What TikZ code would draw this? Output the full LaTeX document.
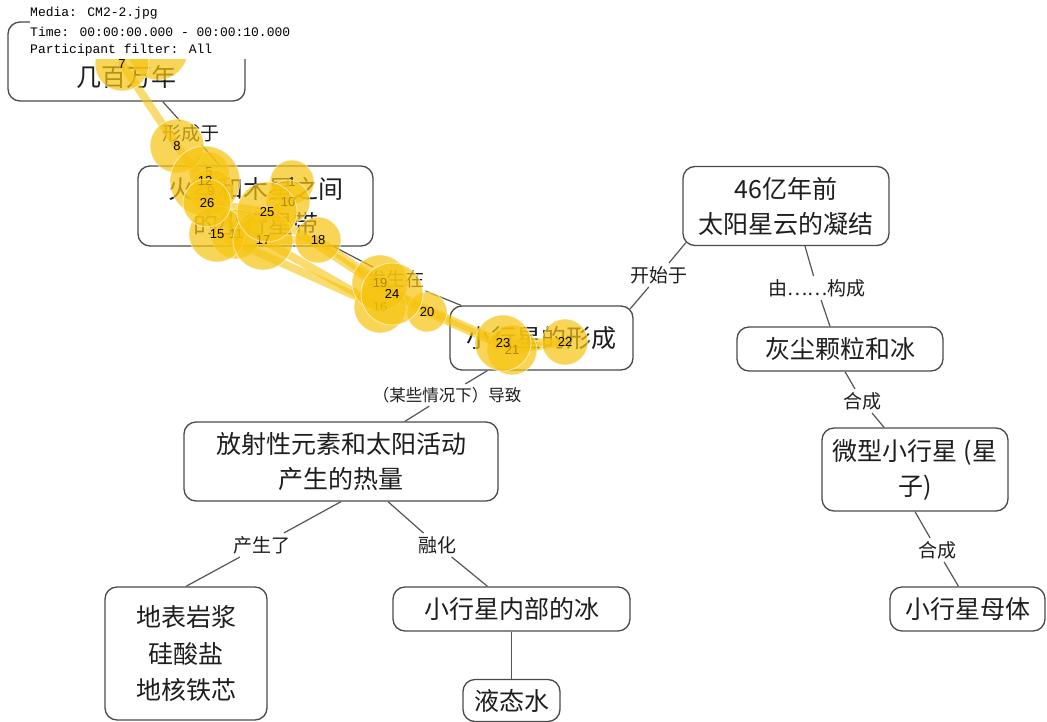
\documentclass[tikz,border=0pt]{standalone}
\usepackage{fontspec}
\setmainfont{Noto Sans CJK SC}
\newfontfamily\monofont{Liberation Mono}
\newfontfamily\numfont{Liberation Sans}
\usetikzlibrary{calc}
\definecolor{edgec}{HTML}{555555}
\definecolor{boxline}{HTML}{4A4A4A}
\definecolor{fixc}{HTML}{F6C40F}
\definecolor{txt}{HTML}{1E1E1E}
\tikzset{
  box/.style={draw=boxline, line width=1.3pt, rounded corners=12pt, align=center,
    font=\fontsize{25}{35}\selectfont, text=txt, inner sep=2pt},
  lbl/.style={font=\fontsize{19}{21}\selectfont, text=txt, inner sep=3pt},
  conn/.style={draw=edgec, line width=1.2pt},
  fixn/.style={circle, fill=fixc, fill opacity=0.7, draw=white, draw opacity=0.6,
    line width=0.8pt, text opacity=1, text=black, inner sep=0pt, minimum size=#1,
    font=\numfont\fontsize{13}{13}\selectfont},
  sacc/.style={draw=fixc, line width=8pt, draw opacity=0.6, line cap=round},
  hdr/.style={anchor=west, inner sep=0pt, font=\monofont\fontsize{13}{13}\selectfont, text=black}
}
\begin{document}
\begin{tikzpicture}[x=1pt,y=-1pt]
\useasboundingbox (0,0) rectangle (1047,722);
\fill[white] (0,0) rectangle (1047,722);

% concept boxes
\node[box, minimum width=237pt, text height=58pt, text depth=8pt, inner ysep=6.5pt] (n1) at (126.5,61.5) {几百万年};
\node[box, minimum width=235pt, minimum height=80pt] (n2) at (255.5,206) {火星和木星之间\\的小行星带};
\node[box, minimum width=183pt, minimum height=64pt] (n3) at (541.5,338) {小行星的形成};
\node[box, minimum width=206pt, minimum height=79pt] (n4) at (786,206) {46亿年前\\太阳星云的凝结};
\node[box, minimum width=206pt, minimum height=44pt] (n5) at (840,349) {灰尘颗粒和冰};
\node[box, minimum width=186pt, minimum height=83pt] (n6) at (915,469.5) {微型小行星 (星\\子)};
\node[box, minimum width=155pt, minimum height=44pt] (n7) at (967.5,609) {小行星母体};
\node[box, minimum width=314pt, minimum height=79pt] (n8) at (341,461.5) {放射性元素和太阳活动\\产生的热量};
\node[box, minimum width=162pt, minimum height=133pt, font=\fontsize{25}{36.5}\selectfont] (n9) at (186,653.5) {地表岩浆\\硅酸盐\\地核铁芯};
\node[box, minimum width=237pt, minimum height=44pt] (n10) at (511.5,609) {小行星内部的冰};
\node[box, minimum width=97pt, minimum height=42pt] (n11) at (511.5,700.5) {液态水};

% link labels
\node[lbl] (l1) at (191,133) {形成于};
\node[lbl] (l2) at (396,279) {发生在};
\node[lbl] (l3) at (659,275) {开始于};
\node[lbl] (l4) at (817,288) {由……构成};
\node[lbl] (l5) at (862,401) {合成};
\node[lbl] (l6) at (937,550) {合成};
\node[lbl, font=\fontsize{16.5}{18}\selectfont] (l7) at (447,395) {（某些情况下）导致};
\node[lbl] (l8) at (262,545) {产生了};
\node[lbl] (l9) at (437,545) {融化};

% connectors
\draw[conn] (n1) -- (l1);
\draw[conn] (l1) -- (n2);
\draw[conn] (n2) -- (l2);
\draw[conn] (l2) -- (n3);
\draw[conn] ($(n3.north east)+(-3.5,3.5)$) -- (l3);
\draw[conn] (l3) -- ($(n4.south west)+(3.5,-3.5)$);
\draw[conn] ($(n4.south)+(19,0)$) -- (l4);
\draw[conn] (l4) -- ($(n5.north)+(-10,0)$);
\draw[conn] ($(n5.south)+(5,0)$) -- (l5);
\draw[conn] (l5) -- ($(n6.north)+(-31,0)$);
\draw[conn] (n6.south) -- (l6);
\draw[conn] (l6) -- ($(n7.north)+(-9,0)$);
\draw[conn] (n3) -- (l7);
\draw[conn] (l7) -- (n8);
\draw[conn] (n8.south) -- (l8);
\draw[conn] (l8) -- (n9.north);
\draw[conn] ($(n8.south)+(47,0)$) -- (l9);
\draw[conn] (l9) -- ($(n10.north)+(-24,0)$);
\draw[conn] (n10) -- (n11);

% fixation positions
\coordinate (p1) at (292,182);
\coordinate (p5) at (209,172);
\coordinate (p6) at (158,50);
\coordinate (p7) at (122,64);
\coordinate (p8) at (177,146);
\coordinate (p9) at (211,191);
\coordinate (p10) at (288,202);
\coordinate (p11) at (236,234);
\coordinate (p12) at (205,181);
\coordinate (p15) at (217,234);
\coordinate (p16) at (380,307);
\coordinate (p17) at (263,240);
\coordinate (p18) at (318,240);
\coordinate (p19) at (380,283);
\coordinate (p20) at (427,312);
\coordinate (p21) at (512,350);
\coordinate (p22) at (565,342);
\coordinate (p23) at (503,343);
\coordinate (p24) at (392,294);
\coordinate (p25) at (267,212);
\coordinate (p26) at (207,203);

% saccades
\draw[sacc] (p7) -- (p8);
\draw[sacc] (p8) -- (p9);
\draw[sacc] (p10) -- (p11);
\draw[sacc] (p11) -- (p12);
\draw[sacc] (p15) -- (p16);
\draw[sacc] (p16) -- (p17);
\draw[sacc] (p17) -- (p18);
\draw[sacc] (p18) -- (p19);
\draw[sacc] (p19) -- (p20);
\draw[sacc] (p20) -- (p21);
\draw[sacc] (p21) -- (p22);
\draw[sacc] (p22) -- (p23);
\draw[sacc] (p23) -- (p24);
\draw[sacc] (p24) -- (p25);
\draw[sacc] (p25) -- (p26);

% fixations
\node[fixn=44pt] (f1) at (p1) {1};
\node[fixn=40pt] (f5) at (p5) {5};
\node[fixn=60pt] (f6) at (p6) {};
\node[fixn=54pt] (f7) at (p7) {7};
\node[fixn=54pt] (f8) at (p8) {8};
\node[fixn=44pt] (f9) at (p9) {9};
\node[fixn=44pt] (f10) at (p10) {10};
\node[fixn=50pt] (f11) at (p11) {11};
\node[fixn=70pt] (f12) at (p12) {12};
\node[fixn=56pt] (f15) at (p15) {15};
\node[fixn=52pt] (f16) at (p16) {16};
\node[fixn=60pt] (f17) at (p17) {17};
\node[fixn=46pt] (f18) at (p18) {18};
\node[fixn=56pt] (f19) at (p19) {19};
\node[fixn=40pt] (f20) at (p20) {20};
\node[fixn=50pt] (f21) at (p21) {21};
\node[fixn=46pt] (f22) at (p22) {22};
\node[fixn=56pt] (f23) at (p23) {23};
\node[fixn=62pt] (f24) at (p24) {24};
\node[fixn=60pt] (f25) at (p25) {25};
\node[fixn=48pt] (f26) at (p26) {26};

% header overlay
\fill[white] (30,0) rectangle (296,59);
\node[hdr] (h1) at (30,13) {Media: CM2-2.jpg};
\node[hdr] (h2) at (30,32) {Time: 00:00:00.000 - 00:00:10.000};
\node[hdr] (h3) at (30,50) {Participant filter: All};
\end{tikzpicture}
\end{document}
